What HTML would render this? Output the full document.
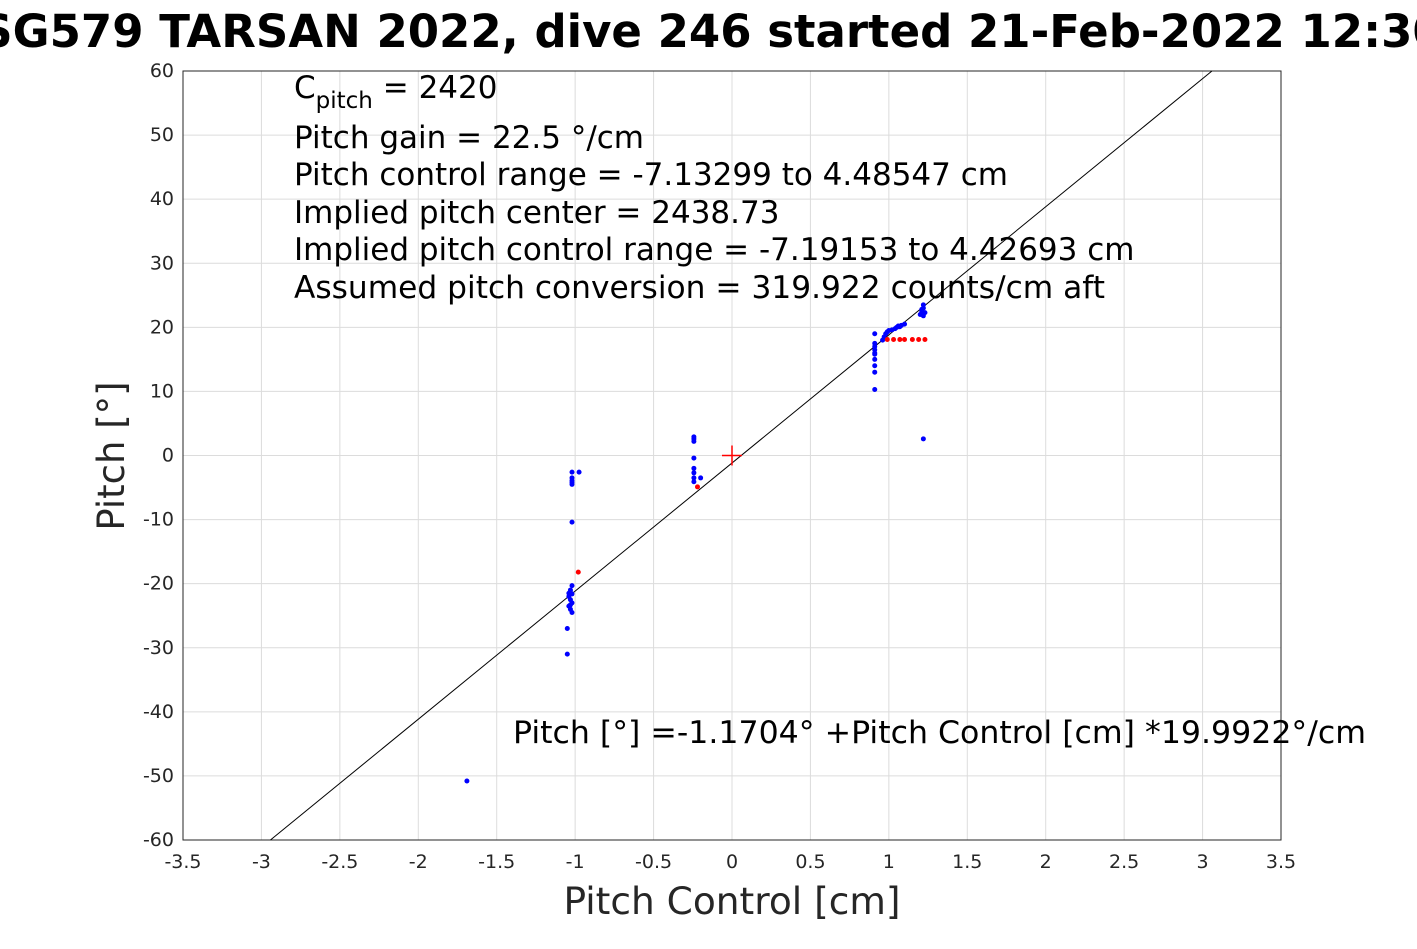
<!DOCTYPE html>
<html><head><meta charset="utf-8"><style>
body{margin:0;background:#fff;font-family:"DejaVu Sans","Liberation Sans",sans-serif;overflow:hidden}
svg text{font-family:"DejaVu Sans","Liberation Sans",sans-serif}
</style></head><body>
<svg id="chart" width="1417" height="945" xmlns="http://www.w3.org/2000/svg">
<rect width="1417" height="945" fill="#fff"/>
<text x="712" y="47" text-anchor="middle" font-size="45" font-weight="bold" fill="#000">SG579 TARSAN 2022, dive 246 started 21-Feb-2022 12:30</text>
<g id="grid"></g>
<g id="axes"></g>
<g id="marks"></g>
<g font-size="31" fill="#000">
<text x="294" y="98">C<tspan font-size="23" dy="10">pitch</tspan><tspan dy="-10"> = 2420</tspan></text>
<text x="294" y="148">Pitch gain = 22.5 °/cm</text>
<text x="294" y="185">Pitch control range = -7.13299 to 4.48547 cm</text>
<text x="294" y="223">Implied pitch center = 2438.73</text>
<text x="294" y="260">Implied pitch control range = -7.19153 to 4.42693 cm</text>
<text x="294" y="298" textLength="811" lengthAdjust="spacingAndGlyphs">Assumed pitch conversion = 319.922 counts/cm aft</text>
<text x="513" y="743" textLength="853" lengthAdjust="spacingAndGlyphs">Pitch [°] =-1.1704° +Pitch Control [cm] *19.9922°/cm</text>
</g>
<text x="732" y="914" text-anchor="middle" font-size="37.5" fill="#262626">Pitch Control [cm]</text>
<text transform="translate(124,456) rotate(-90)" text-anchor="middle" font-size="37" fill="#262626">Pitch [°]</text>
</svg>
<script>
const xTicks=[-3.5,-3,-2.5,-2,-1.5,-1,-0.5,0,0.5,1,1.5,2,2.5,3,3.5];
const yTicks=[-60,-50,-40,-30,-20,-10,0,10,20,30,40,50,60];
const blueX=[-1.02,-1.02,-1.02,-1.02,-1.02,-1.02,-0.975,-1.02,-1.03,-1.02,-1.04,-1.03,-1.02,-1.04,-1.03,-1.02,-1.04,-1.03,-1.05,-1.05,
-0.243,-0.243,-0.243,-0.243,-0.243,-0.243,-0.243,-0.243,-0.2,
0.91,0.91,0.91,0.91,0.91,0.91,0.91,0.91,0.91,0.91,
0.96,0.97,0.98,0.99,1.0,1.02,1.04,1.05,1.06,1.07,1.08,1.1,
1.2,1.21,1.22,1.22,1.23,1.22,1.21,1.22,-1.69];
const blueY=[-2.6,-3.5,-3.9,-4.2,-4.5,-10.4,-2.6,-20.3,-21,-21.6,-22,-22.5,-23,-23.5,-24,-24.5,-21.5,-23.3,-27,-31,
2.9,2.6,2.2,-0.4,-2,-2.7,-3.5,-4.1,-3.5,
10.3,13,14,15,15.8,16.5,17,17.5,16,19,
18,18.5,19,19.3,19.5,19.6,19.8,20,20.2,20.1,20.3,20.5,
22,22.5,23,23.5,22.3,21.8,22.8,2.6,-50.8];
const redX=[-0.98,-0.22,0.99,1.03,1.07,1.1,1.15,1.19,1.23];
const redY=[-18.2,-4.9,18.1,18.1,18.1,18.1,18.1,18.1,18.1];
const fitIntercept=-1.1704, fitSlope=19.9922;

const X0=183,X1=1281,Y0=840,Y1=71;
const sx=v=>X0+(v+3.5)/7*(X1-X0);
const sy=v=>Y0-(v+60)/120*(Y0-Y1);
const NS="http://www.w3.org/2000/svg";
function mk(t,a,p){const e=document.createElementNS(NS,t);for(const k in a)e.setAttribute(k,a[k]);p.appendChild(e);return e;}
const grid=document.getElementById('grid'),axes=document.getElementById('axes'),marks=document.getElementById('marks');
xTicks.forEach(t=>{
 const l=mk('line',{x1:sx(t),x2:sx(t),y1:Y1,y2:Y0,stroke:'#dcdcdc','stroke-width':1},grid);
 
 
 const tx=mk('text',{x:sx(t),y:Y0+28,'text-anchor':'middle','font-size':19,fill:'#262626'},axes);
 tx.textContent=String(t);
 
 
});
yTicks.forEach(t=>{
 const l=mk('line',{x1:X0,x2:X1,y1:sy(t),y2:sy(t),stroke:'#dcdcdc','stroke-width':1},grid);
 
 
 const tx=mk('text',{x:X0-9,y:sy(t)+6,'text-anchor':'end','font-size':19,fill:'#262626'},axes);
 tx.textContent=String(t);
 
 
});
const box=mk('rect',{x:X0,y:Y1,width:X1-X0,height:Y0-Y1,fill:'none',stroke:'#262626','stroke-width':1},axes);


const xa=(-60-fitIntercept)/fitSlope, xb=(60-fitIntercept)/fitSlope;
const fl=mk('line',{x1:sx(xa),y1:sy(-60),x2:sx(xb),y2:sy(60),stroke:'#000','stroke-width':1},marks);


blueX.forEach((v,i)=>{
 const c=mk('circle',{cx:sx(v),cy:sy(blueY[i]),r:2.5,fill:'#0000ff'},marks);
 
 
});
redX.forEach((v,i)=>{
 const c=mk('circle',{cx:sx(v),cy:sy(redY[i]),r:2.5,fill:'#ff0000'},marks);
 
 
});
const cx=sx(0),cy=sy(0);
const p=mk('path',{d:`M${cx-10},${cy}H${cx+10}M${cx},${cy-10}V${cy+10}`,stroke:'#ff0000','stroke-width':1.5,fill:'none'},marks);


</script>
</body></html>
